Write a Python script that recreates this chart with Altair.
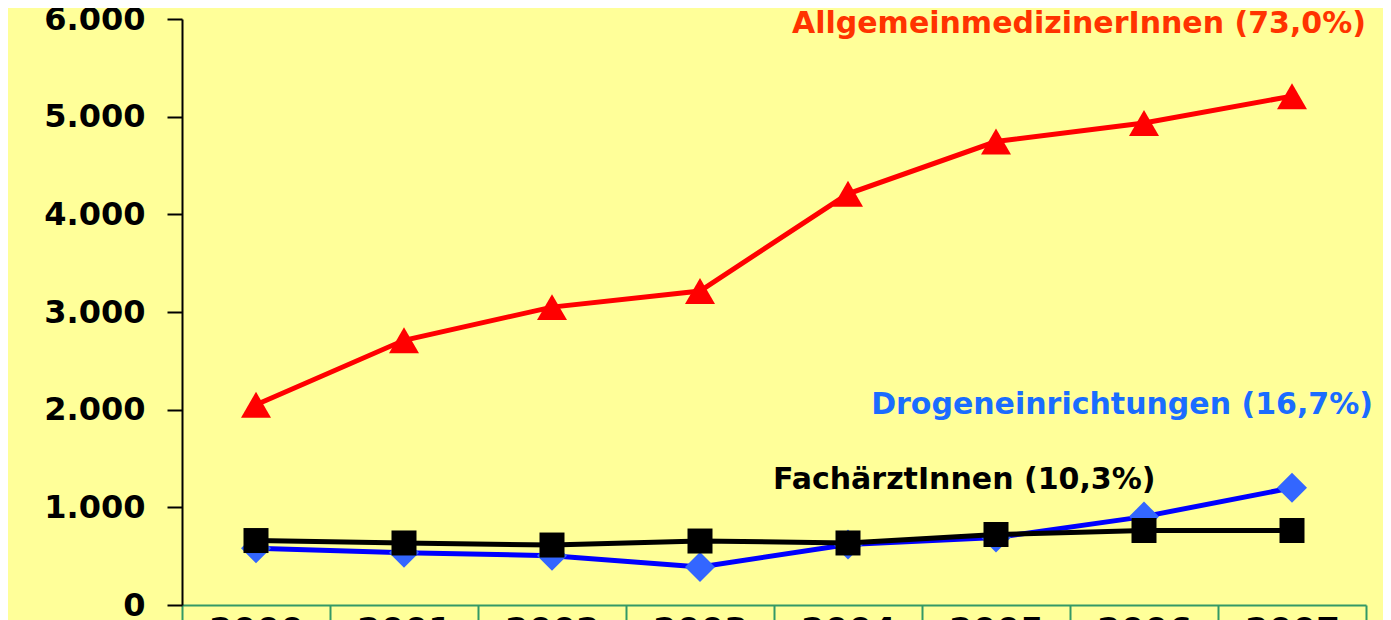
import altair as alt
import pandas as pd

years = ["2000", "2001", "2002", "2003", "2004", "2005", "2006", "2007"]
allgemein = [2050, 2710, 3050, 3215, 4210, 4745, 4935, 5210]
drogen = [580, 535, 505, 390, 620, 690, 905, 1200]
fach = [660, 635, 614, 655, 635, 722, 763, 763]
y_ticks = [0, 1000, 2000, 3000, 4000, 5000, 6000]

label_allg = "AllgemeinmedizinerInnen (73,0%)"
label_drog = "Drogeneinrichtungen (16,7%)"
label_fach = "FachärztInnen (10,3%)"

FONT = "DejaVu Sans"
GREEN = "#339966"

x_enc = alt.X(
    "year:O",
    scale=alt.Scale(type="band", paddingInner=0, paddingOuter=0),
    axis=alt.Axis(
        title=None, labelAngle=0, tickBand="extent", grid=False,
        domainColor=GREEN, domainWidth=2, tickColor=GREEN, tickWidth=2,
        tickSize=60, labelPadding=-51, labelFont=FONT, labelFontSize=34,
        labelFontWeight="bold", labelColor="black", labelBaseline="top",
    ),
)
y_enc = alt.Y(
    "value:Q",
    scale=alt.Scale(domain=[0, 6000], nice=False),
    axis=alt.Axis(
        title=None, values=y_ticks, grid=False,
        labelExpr="replace(format(datum.value, ','), ',', '.')",
        labelFont=FONT, labelFontSize=32, labelFontWeight="bold", labelColor="black",
        domainColor="black", domainWidth=2, tickColor="black", tickWidth=2,
        tickSize=15, labelPadding=22,
    ),
)


def series(vals, line_color, point_color, shape, size):
    df = pd.DataFrame({"year": years, "value": vals})
    base = alt.Chart(df).encode(x=x_enc, y=y_enc)
    line = base.mark_line(color=line_color, strokeWidth=5)
    pts = base.mark_point(shape=shape, size=size, filled=True, color=point_color, opacity=1)
    return [line, pts]


def label(text, color, x, y, align):
    df = pd.DataFrame({"t": [text]})
    return alt.Chart(df).mark_text(
        font=FONT, fontSize=30, fontWeight="bold", color=color, align=align, baseline="middle"
    ).encode(text="t:N", x=alt.value(x), y=alt.value(y))


layers = []
layers += series(drogen, "#0000FF", "#3366FF", "diamond", 900)
layers += series(fach, "#000000", "#000000", "square", 625)
layers += series(allgemein, "#FF0000", "#FF0000", "triangle-up", 900)
layers += [
    label(label_allg, "#FF3300", 1184, 5, "right"),
    label(label_drog, "#1A6CFF", 1191, 386, "right"),
    label(label_fach, "#000000", 591, 461, "left"),
]

chart = alt.layer(*layers).properties(
    width=1184, height=586,
    autosize=alt.AutoSizeParams(type="none"),
    padding={"left": 174, "top": 11, "right": 17, "bottom": 40},
    background="#FFFF99",
).configure_view(stroke=None)

chart.save("out.html", embed_options={"renderer": "svg", "actions": False})
